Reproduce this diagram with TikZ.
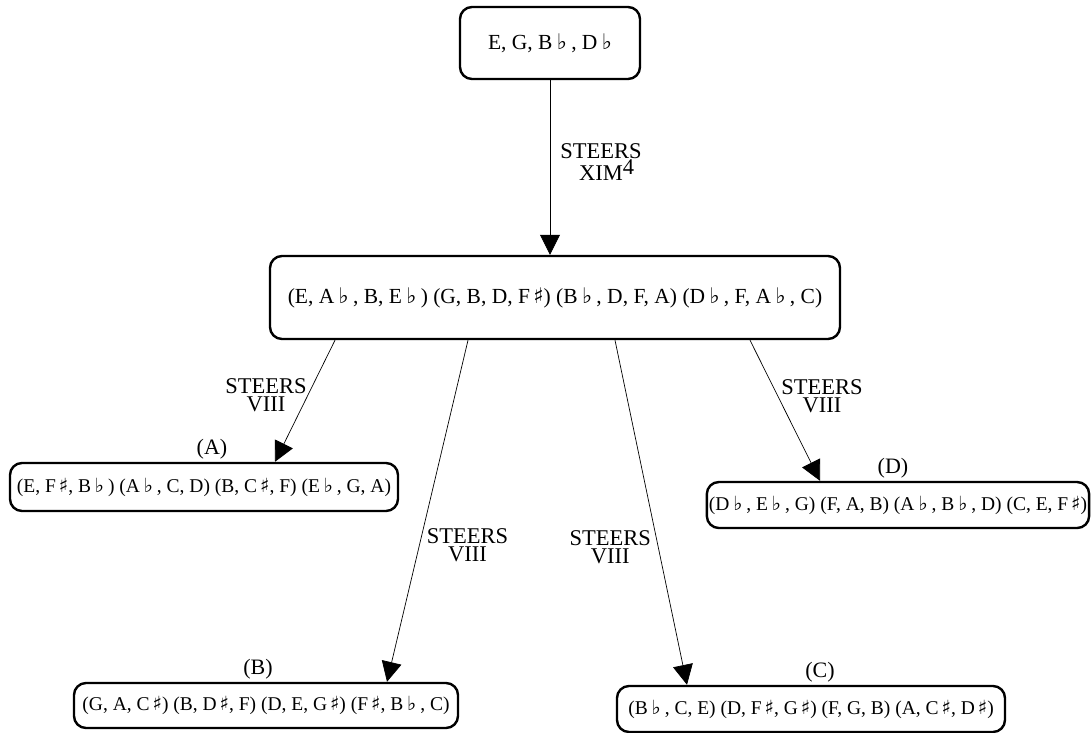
\documentclass[tikz,border=0pt]{standalone}
\usepackage{fontspec}
\setmainfont{Liberation Serif}
\newfontfamily\musfont{DejaVu Sans}
\usetikzlibrary{arrows.meta, positioning}

\newcommand{\fl}{\hspace{0.2em}{\musfont ♭}\hspace{0.2em}}
\newcommand{\sh}{\hspace{0.15em}{\musfont ♯}}

\begin{document}
\begin{tikzpicture}[
    x=1pt, y=-1pt,
    chord/.style={draw, line width=2.4pt, rounded corners=12pt,
                  inner xsep=2pt, font=\fontsize{21.5}{23}\selectfont},
    ring/.style={chord, font=\fontsize{19.5}{21}\selectfont},
    steer/.style={-{Triangle[length=20pt, width=20pt]}, line width=0.7pt},
    elab/.style={font=\fontsize{22.5}{18}\selectfont, align=center,
                 inner sep=1pt},
    clab/.style={font=\fontsize{22}{23}\selectfont, inner sep=2pt}
  ]
  \useasboundingbox (0, 0) rectangle (1091, 732);

  % source chord and its steered cycles
  \node[chord, minimum width=180pt, minimum height=72pt]
    (root) at (550, 43) {E, G, B\fl, D\fl};
  \node[chord, minimum width=570pt, minimum height=83pt]
    (mid) at (555, 297.5)
    {(E, A\fl, B, E\fl) (G, B, D, F\sh) (B\fl, D, F, A) (D\fl, F, A\fl, C)};

  % four results
  \node[ring, minimum width=388pt, minimum height=48pt,
        label={[clab, xshift=8pt]above:{(A)}}]
    (ringA) at (204, 487)
    {(E, F\sh, B\fl) (A\fl, C, D) (B, C\sh, F) (E\fl, G, A)};
  \node[ring, minimum width=384pt, minimum height=45pt,
        label={[clab, xshift=-8pt]above:{(B)}}]
    (ringB) at (266, 705.5)
    {(G, A, C\sh) (B, D\sh, F) (D, E, G\sh) (F\sh, B\fl, C)};
  \node[ring, minimum width=388pt, minimum height=46pt,
        label={[clab, xshift=9pt]above:{(C)}}]
    (ringC) at (811, 709)
    {(B\fl, C, E) (D, F\sh, G\sh) (F, G, B) (A, C\sh, D\sh)};
  \node[ring, minimum width=380pt, minimum height=46pt,
        label={[clab, xshift=-5pt]above:{(D)}}]
    (ringD) at (898, 505)
    {(D\fl, E\fl, G) (F, A, B) (A\fl, B\fl, D) (C, E, F\sh)};

  % steers
  \draw[steer] (root.south) -- (root.south |- mid.north)
    node[elab, pos=0.47, right=9pt] {STEERS\\XIM\rlap{\raisebox{6pt}{4}}};
  \draw[steer] ([xshift=-220pt]mid.south) -- ([xshift=71pt]ringA.north)
    node[elab, pos=0.45, left] {STEERS\\VIII};
  \draw[steer] ([xshift=-87pt]mid.south) -- ([xshift=121pt]ringB.north)
    node[elab, pos=0.6, right=6pt] {STEERS\\VIII};
  \draw[steer] ([xshift=60pt]mid.south) -- ([xshift=-124pt]ringC.north)
    node[elab, pos=0.6, left=6pt] {STEERS\\VIII};
  \draw[steer] ([xshift=195pt]mid.south) -- ([xshift=-78pt]ringD.north)
    node[elab, pos=0.4, right=2pt] {STEERS\\VIII};
\end{tikzpicture}
\end{document}
